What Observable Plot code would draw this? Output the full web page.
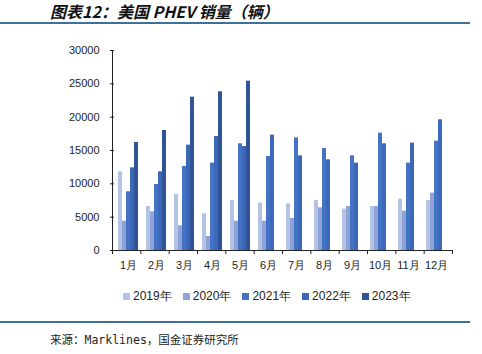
<!DOCTYPE html>
<html><head><meta charset="utf-8">
<script src="https://cdn.jsdelivr.net/npm/d3@7"></script>
<script src="https://cdn.jsdelivr.net/npm/@observablehq/plot@0.6"></script>
<style>
body{margin:0;width:482px;height:354px;position:relative;background:#fff;font-family:"Liberation Sans",Arial,sans-serif;overflow:hidden}
#title{position:absolute;left:50px;top:-1px;font-family:"Noto Sans CJK SC";font-weight:bold;font-style:italic;font-size:16px;color:#111;white-space:nowrap}
#rule1{position:absolute;left:0;top:22px;width:470px;height:2px;background:#3f7096}
#chart,#overlay{position:absolute;left:0;top:30px}
#overlay{pointer-events:none}
#legend{position:absolute;left:123px;top:288px;display:flex;gap:11px;font-size:12px;color:#222;white-space:nowrap}
#legend .it{display:flex;align-items:center}
#legend .sw{width:7px;height:7px;margin-right:3px}
#rule2{position:absolute;left:0;top:321px;width:470px;height:2px;background:#3f7096}
#source{position:absolute;left:50px;top:331px;font-family:"DejaVu Sans Mono","Noto Sans CJK SC",monospace;font-size:11.5px;color:#222;white-space:nowrap}
</style>
</head><body>
<div id="title">图表12：美国 PHEV 销量（辆）</div>
<div id="rule1"></div>
<div id="chart"></div>
<div id="overlay"></div>
<div id="legend"></div>
<div id="rule2"></div>
<div id="source">来源：Marklines，国金证券研究所</div>
<script>
const months = ["1月","2月","3月","4月","5月","6月","7月","8月","9月","10月","11月","12月"];
const years = ["2019","2020","2021","2022","2023"];
const legendLabels = ["2019年","2020年","2021年","2022年","2023年"];
const colors = ["#b4c3e3","#8ea3d7","#4472c4","#3b68b8","#2f5597"];
const s2019 = [11800,6600,8400,5500,7500,7100,7000,7500,6200,6600,7700,7500];
const s2020 = [4400,5800,3700,2100,4400,4400,4800,6400,6600,6600,5900,8600];
const s2021 = [8800,9900,12600,13100,16000,14100,16900,15300,14200,17600,13100,16400];
const s2022 = [12400,11800,15800,17100,15600,17300,14200,13600,13100,16000,16100,19600];
const s2023 = [16200,18000,23000,23800,25400];
const yTicks = [0,5000,10000,15000,20000,25000,30000];

const series = [s2019,s2020,s2021,s2022,s2023];
const rows = [];
months.forEach((m,i)=>{
  series.forEach((s,j)=>{
    if (s[i] != null) rows.push({month:m, year:years[j], value:s[i]});
  });
});

const common = {
  width: 482, height: 250,
  marginTop: 20, marginBottom: 30, marginLeft: 112, marginRight: 30
};
const fontStyle = {fontSize: "11px", fontFamily: "'Liberation Sans', Arial, sans-serif", color: "#222", overflow: "visible"};

const chart = Plot.plot({
  ...common,
  fx: {domain: months, padding: 0, label: null},
  x: {domain: years, paddingInner: 0, paddingOuter: 0.75, axis: null},
  y: {domain: [0, 30000], label: null},
  color: {domain: years, range: colors},
  style: {...fontStyle, background: "white"},
  marks: [
    Plot.barY(rows, {fx: "month", x: "year", y: "value", fill: "year"}),
    Plot.axisY({ticks: yTicks, tickSize: 4, tickPadding: 11, tickFormat: d3.format("d"), label: null, stroke: "#222"}),
    Plot.axisFx({anchor: "bottom", tickSize: 0, tickPadding: 11, label: null})
  ]
});
document.getElementById("chart").appendChild(chart);

// axis lines and month-boundary ticks, on a linear scale spanning the same months
const overlay = Plot.plot({
  ...common,
  x: {type: "linear", domain: [0, months.length], axis: null},
  y: {domain: [0, 30000], axis: null},
  style: {...fontStyle, background: "transparent"},
  marks: [
    Plot.ruleX([0], {stroke: "#222"}),
    Plot.ruleY([0], {stroke: "#222"}),
    Plot.axisX({ticks: d3.range(months.length + 1), tickSize: 4, tickFormat: () => "", label: null, stroke: "#222"})
  ]
});
document.getElementById("overlay").appendChild(overlay);

const legend = document.getElementById("legend");
legendLabels.forEach((t,i)=>{
  const it = document.createElement("div"); it.className = "it";
  const sw = document.createElement("span"); sw.className = "sw"; sw.style.background = colors[i];
  const tx = document.createElement("span"); tx.textContent = t;
  it.appendChild(sw); it.appendChild(tx); legend.appendChild(it);
});
</script>
</body></html>
